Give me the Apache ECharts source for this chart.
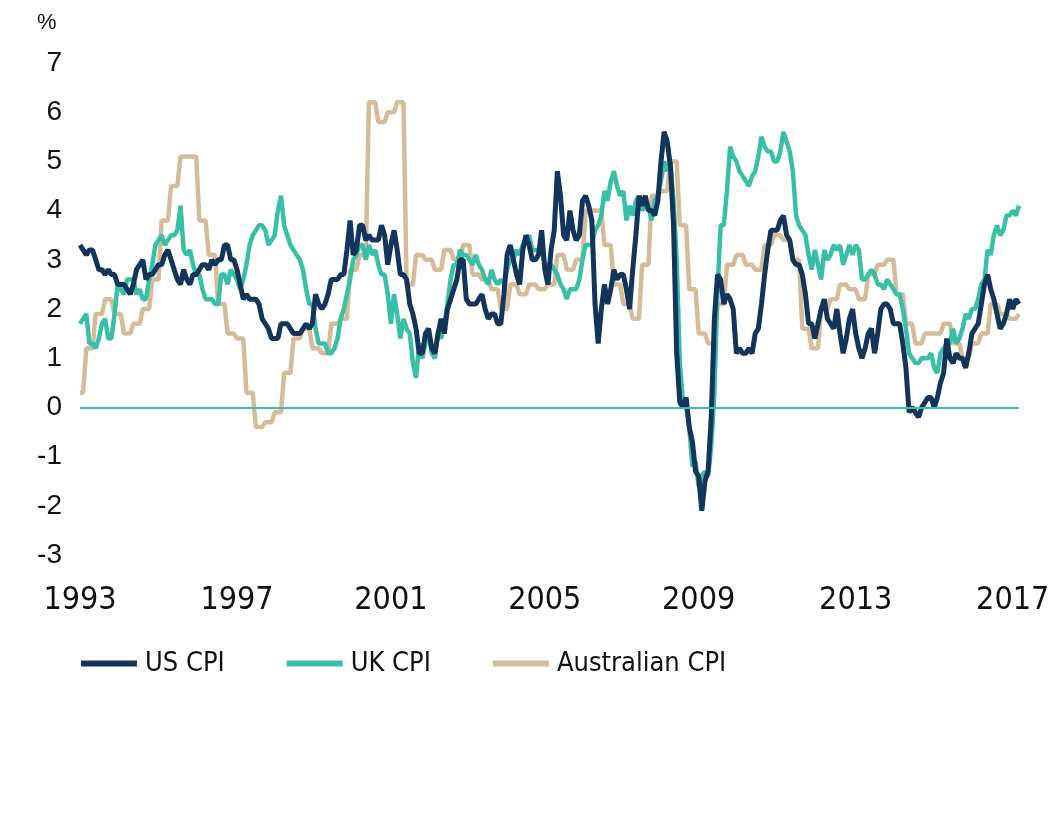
<!DOCTYPE html>
<html>
<head>
<meta charset="utf-8">
<script src="https://cdn.jsdelivr.net/npm/echarts@6/dist/echarts.min.js"></script>
<style>
html,body{margin:0;padding:0;background:#fff;}
#chart{width:1064px;height:828px;}
</style>
</head>
<body>
<div id="chart"></div>
<script>
// ---- Data ----
const firstYear = 1993, lastYear = 2017;
const months = [];
for (let y = firstYear; y <= lastYear; y++) {
  for (let m = 1; m <= 12; m++) months.push(y + '-' + (m < 10 ? '0' + m : m));
}
const tickMonths = ['1993-01', '1997-03', '2001-04', '2005-05', '2009-06', '2013-08', '2017-10'];
const yTicks = { min: -3, max: 7, step: 1 };

// US CPI, % y/y, monthly Jan 1993 - Dec 2017
const usCpi = [
  3.3, 3.2, 3.1, 3.2, 3.2, 3.0, 2.8, 2.8, 2.7, 2.8, 2.7, 2.7,
  2.5, 2.5, 2.5, 2.4, 2.3, 2.5, 2.8, 2.9, 3.0, 2.6, 2.7, 2.7,
  2.8, 2.9, 2.9, 3.1, 3.2, 3.0, 2.8, 2.6, 2.5, 2.8, 2.6, 2.5,
  2.7, 2.7, 2.8, 2.9, 2.9, 2.8, 3.0, 2.9, 3.0, 3.0, 3.3, 3.3,
  3.0, 3.0, 2.8, 2.5, 2.2, 2.3, 2.2, 2.2, 2.2, 2.1, 1.8, 1.7,
  1.6, 1.4, 1.4, 1.4, 1.7, 1.7, 1.7, 1.6, 1.5, 1.5, 1.5, 1.6,
  1.7, 1.6, 1.7, 2.3, 2.1, 2.0, 2.1, 2.3, 2.6, 2.6, 2.6, 2.7,
  2.7, 3.2, 3.8, 3.1, 3.2, 3.7, 3.7, 3.4, 3.5, 3.4, 3.4, 3.4,
  3.7, 3.5, 2.9, 3.3, 3.6, 3.2, 2.7, 2.7, 2.6, 2.1, 1.9, 1.6,
  1.1, 1.1, 1.5, 1.6, 1.2, 1.1, 1.5, 1.8, 1.5, 2.0, 2.2, 2.4,
  2.6, 3.0, 3.0, 2.2, 2.1, 2.1, 2.1, 2.2, 2.3, 2.0, 1.8, 1.9,
  1.9, 1.7, 1.7, 2.3, 3.1, 3.3, 3.0, 2.7, 2.5, 3.2, 3.5, 3.3,
  3.0, 3.0, 3.1, 3.6, 2.8, 2.5, 3.2, 3.6, 4.8, 4.3, 3.5, 3.4,
  4.0, 3.6, 3.4, 3.5, 4.2, 4.3, 4.1, 3.8, 2.1, 1.3, 2.0, 2.5,
  2.1, 2.4, 2.8, 2.6, 2.7, 2.7, 2.4, 2.0, 2.8, 3.5, 4.3, 4.1,
  4.3, 4.0, 4.0, 3.9, 4.2, 5.0, 5.6, 5.4, 4.9, 3.7, 1.1, 0.1,
  0.0, 0.2, -0.4, -0.7, -1.3, -1.4, -2.1, -1.5, -1.3, -0.2, 1.8, 2.7,
  2.6, 2.1, 2.3, 2.2, 2.0, 1.1, 1.2, 1.1, 1.1, 1.2, 1.1, 1.5,
  1.6, 2.1, 2.7, 3.2, 3.6, 3.6, 3.6, 3.8, 3.9, 3.5, 3.4, 3.0,
  2.9, 2.9, 2.7, 2.3, 1.7, 1.7, 1.4, 1.7, 2.0, 2.2, 1.8, 1.7,
  1.6, 2.0, 1.5, 1.1, 1.4, 1.8, 2.0, 1.5, 1.2, 1.0, 1.2, 1.5,
  1.6, 1.1, 1.5, 2.0, 2.1, 2.1, 2.0, 1.7, 1.7, 1.7, 1.3, 0.8,
  -0.1, 0.0, -0.1, -0.2, 0.0, 0.1, 0.2, 0.2, 0.0, 0.2, 0.5, 0.7,
  1.4, 1.0, 0.9, 1.1, 1.0, 1.0, 0.8, 1.1, 1.5, 1.6, 1.7, 2.1,
  2.5, 2.7, 2.4, 2.2, 1.9, 1.6, 1.7, 1.9, 2.2, 2.0, 2.2, 2.1
];

// UK CPI (as labelled), % y/y, monthly Jan 1993 - Dec 2017
const ukCpi = [
  1.7, 1.8, 1.9, 1.3, 1.3, 1.2, 1.4, 1.7, 1.8, 1.4, 1.4, 1.9,
  2.5, 2.4, 2.3, 2.6, 2.6, 2.6, 2.3, 2.4, 2.2, 2.2, 2.6, 2.9,
  3.3, 3.4, 3.5, 3.3, 3.4, 3.5, 3.5, 3.6, 4.1, 3.2, 3.1, 3.2,
  2.9, 2.7, 2.7, 2.4, 2.2, 2.2, 2.2, 2.1, 2.1, 2.7, 2.7, 2.5,
  2.8, 2.7, 2.6, 2.4, 2.6, 2.9, 3.3, 3.5, 3.6, 3.7, 3.7, 3.6,
  3.3, 3.4, 3.5, 4.0, 4.3, 3.7, 3.5, 3.3, 3.2, 3.1, 3.0, 2.8,
  2.4, 2.1, 2.1, 1.6, 1.3, 1.3, 1.3, 1.1, 1.1, 1.2, 1.4, 1.8,
  2.0, 2.3, 2.6, 3.0, 3.1, 3.3, 3.3, 3.0, 3.3, 3.1, 3.2, 2.9,
  2.7, 2.7, 2.3, 1.7, 2.3, 1.9, 1.4, 1.8, 1.6, 1.5, 0.9, 0.6,
  1.3, 1.0, 1.3, 1.5, 1.1, 1.0, 1.5, 1.4, 1.7, 2.1, 2.6, 2.9,
  2.9, 3.2, 3.1, 3.1, 3.0, 2.9, 3.1, 2.9, 2.8, 2.6, 2.5, 2.8,
  2.6, 2.5, 2.6, 2.5, 2.8, 3.0, 3.0, 3.2, 3.1, 3.3, 3.4, 3.5,
  3.2, 3.2, 3.2, 3.2, 2.9, 2.9, 2.9, 2.8, 2.7, 2.5, 2.4, 2.2,
  2.4, 2.4, 2.4, 2.6, 3.0, 3.3, 3.3, 3.3, 3.6, 3.7, 3.9, 4.4,
  4.2, 4.6, 4.8, 4.5, 4.3, 4.4, 3.8, 4.1, 3.9, 4.2, 4.3, 4.0,
  4.1, 4.1, 3.8, 4.2, 4.3, 4.6, 5.0, 4.8, 5.0, 4.2, 3.0, 0.9,
  0.1, 0.0, -0.4, -1.2, -1.1, -1.6, -1.4, -1.3, -1.4, -0.8, 0.3, 2.4,
  3.7, 3.7, 4.4, 5.3, 5.1, 5.0, 4.8, 4.7, 4.6, 4.5, 4.7, 4.8,
  5.1, 5.5, 5.3, 5.2, 5.2, 5.0, 5.0, 5.2, 5.6, 5.4, 5.2, 4.8,
  3.9, 3.7, 3.6, 3.5, 3.1, 2.8, 3.2, 2.9, 2.6, 3.2, 3.0, 3.1,
  3.3, 3.2, 3.3, 2.9, 3.1, 3.3, 3.1, 3.3, 3.2, 2.6, 2.6, 2.7,
  2.8, 2.7, 2.5, 2.5, 2.4, 2.6, 2.5, 2.4, 2.3, 2.3, 2.0, 1.6,
  1.1, 1.0, 0.9, 0.9, 1.0, 1.0, 1.0, 1.1, 0.8, 0.7, 1.1, 1.2,
  1.3, 1.3, 1.6, 1.3, 1.4, 1.6, 1.9, 1.8, 2.0, 2.0, 2.2, 2.5,
  2.6, 3.2, 3.1, 3.5, 3.7, 3.5, 3.6, 3.9, 3.9, 4.0, 3.9, 4.1
];

// Australian CPI, % y/y, quarterly: Dec 1992, Mar 1993, ..., Dec 2017
const ausCpiQuarterly = [
  0.3,
  1.2, 1.9, 2.2, 1.9,
  1.5, 1.7, 2.0, 2.6,
  3.8, 4.5, 5.1, 5.1,
  3.8, 3.1, 2.1, 1.5,
  1.4, 0.3, -0.4, -0.3,
  -0.1, 0.7, 1.4, 1.6,
  1.2, 1.1, 1.7, 1.8,
  2.8, 3.1, 6.2, 5.8,
  6.0, 6.2, 2.5, 3.1,
  3.0, 2.8, 3.2, 3.0,
  3.3, 2.7, 2.6, 2.4,
  2.0, 2.5, 2.3, 2.5,
  2.4, 2.5, 3.1, 2.8,
  3.0, 4.0, 4.0, 3.3,
  2.5, 2.1, 1.8, 2.9,
  4.3, 4.4, 5.0, 3.7,
  2.4, 1.5, 1.3, 2.1,
  2.9, 3.1, 2.9, 2.8,
  3.3, 3.5, 3.4, 3.0,
  1.6, 1.2, 2.0, 2.2,
  2.5, 2.4, 2.2, 2.7,
  2.9, 3.0, 2.3, 1.7,
  1.3, 1.5, 1.5, 1.7,
  1.3, 1.0, 1.3, 1.5,
  2.1, 1.9, 1.8, 1.9
];
// each month carries the latest published quarterly figure
const ausCpi = months.map((_, i) => ausCpiQuarterly[Math.floor((i + 1) / 3)]);

const seriesNames = ['US CPI', 'UK CPI', 'Australian CPI'];
const colors = { us: '#13345b', uk: '#38bfa7', aus: '#d6bb98' };

// ---- Chart ----
const chart = echarts.init(document.getElementById('chart'), null, { renderer: 'canvas' });
const narrow = "'Liberation Sans Narrow', 'DejaVu Sans Condensed', 'Liberation Sans', sans-serif";
const regular = "'Liberation Sans', Arial, sans-serif";

chart.setOption({
  animation: false,
  backgroundColor: '#ffffff',
  graphic: [{
    type: 'text', left: 37, top: 12,
    style: { text: '%', fontSize: 22, fontFamily: regular, fill: '#111' }
  }],
  grid: { left: 80, right: 45, top: 63, bottom: 273, containLabel: false },
  legend: {
    data: seriesNames,
    left: 76, top: 645,
    icon: 'rect',
    itemWidth: 56, itemHeight: 6,
    itemGap: 62,
    textStyle: { fontFamily: narrow, fontSize: 27, color: '#111', padding: [0, 0, 0, 3] }
  },
  xAxis: {
    type: 'category',
    data: months,
    boundaryGap: false,
    axisLine: { show: false },
    axisTick: { show: false },
    splitLine: { show: false },
    axisLabel: {
      interval: (idx, val) => tickMonths.indexOf(val) >= 0,
      formatter: (val) => val.slice(0, 4),
      fontFamily: narrow, fontSize: 32, color: '#111', margin: 30,
      hideOverlap: false
    }
  },
  yAxis: {
    type: 'value',
    min: yTicks.min, max: yTicks.max, interval: yTicks.step,
    axisLine: { show: false },
    axisTick: { show: false },
    splitLine: { show: false },
    axisLabel: { fontFamily: regular, fontSize: 28, color: '#111', margin: 18, padding: [8, 0, 0, 0] }
  },
  series: [
    {
      name: 'Australian CPI', type: 'line', data: ausCpi,
      showSymbol: false, symbol: 'none',
      lineStyle: { color: colors.aus, width: 4.5 }, itemStyle: { color: colors.aus },
      markLine: {
        silent: true, symbol: 'none', label: { show: false },
        lineStyle: { color: colors.uk, width: 2, type: 'solid' },
        data: [{ yAxis: 0 }]
      }
    },
    {
      name: 'UK CPI', type: 'line', data: ukCpi,
      showSymbol: false, symbol: 'none',
      lineStyle: { color: colors.uk, width: 4.5 }, itemStyle: { color: colors.uk }
    },
    {
      name: 'US CPI', type: 'line', data: usCpi,
      showSymbol: false, symbol: 'none',
      lineStyle: { color: colors.us, width: 5 }, itemStyle: { color: colors.us }
    }
  ]
});
</script>
</body>
</html>
